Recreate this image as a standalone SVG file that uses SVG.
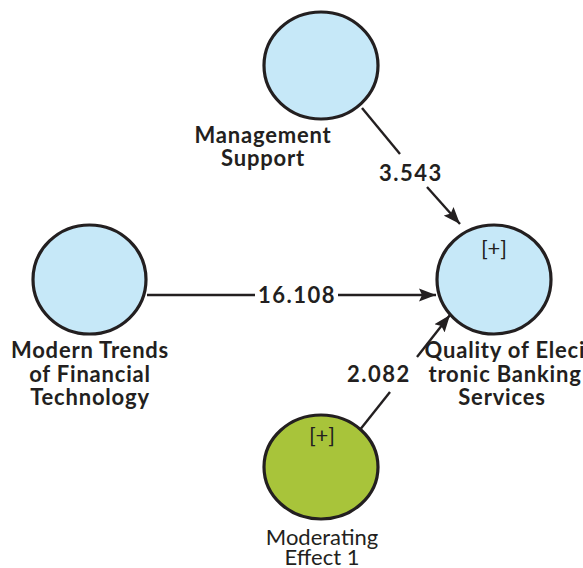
<svg xmlns="http://www.w3.org/2000/svg" width="583" height="568" viewBox="0 0 583 568">
<defs>
<marker id="ah" markerWidth="18" markerHeight="14" refX="17" refY="7" orient="auto" markerUnits="userSpaceOnUse" viewBox="0 0 18 14">
<path d="M0,0.5 L17,7 L0,13.5 L3,7 z" fill="#231f20"/>
</marker>
<style>
.c{stroke:#231f20;stroke-width:3.2}
.b{fill:#c6e8f8}
.g{fill:#a8c43a}
.t{font-family:Lato,"Open Sans",sans-serif;font-weight:bold;font-size:22px;letter-spacing:0.8px;fill:#231f20;text-anchor:middle}
.v{font-family:Lato,"Open Sans",sans-serif;font-weight:bold;font-size:22px;letter-spacing:1.5px;fill:#231f20;text-anchor:middle}
.n{font-family:Lato,"Open Sans",sans-serif;font-size:22px;fill:#231f20;text-anchor:middle}
.p{font-family:Lato,"Open Sans",sans-serif;font-size:22px;fill:#231f20;text-anchor:middle}
.e{stroke:#231f20;stroke-width:2.4;fill:none}
</style>
</defs>
<rect width="583" height="568" fill="#ffffff"/>
<g id="connectors">
<line class="e" x1="362" y1="108" x2="400" y2="154"/>
<line class="e" x1="427" y1="187" x2="460" y2="224" marker-end="url(#ah)"/>
<line class="e" x1="147" y1="295" x2="255" y2="295"/>
<line class="e" x1="338" y1="295" x2="436" y2="295" marker-end="url(#ah)"/>
<line class="e" x1="359" y1="431" x2="390" y2="392"/>
<line class="e" x1="417" y1="357" x2="450" y2="315" marker-end="url(#ah)"/>
<text class="v" x="411" y="181">3.543</text>
<text class="v" x="297" y="303">16.108</text>
<text class="v" x="379" y="382">2.082</text>
</g>
<g id="management-support">
<ellipse class="c b" cx="321" cy="65.5" rx="57" ry="53.5"/>
<text class="t" x="263" y="143">Management</text>
<text class="t" x="263" y="166">Support</text>
</g>
<g id="modern-trends">
<ellipse class="c b" cx="89.5" cy="279.5" rx="56.5" ry="54.5"/>
<text class="t" x="90" y="358">Modern Trends</text>
<text class="t" x="90" y="382">of Financial</text>
<text class="t" x="90" y="405">Technology</text>
</g>
<g id="quality">
<ellipse class="c b" cx="494" cy="279.5" rx="57" ry="54.5"/>
<text class="p" x="494" y="256">[+]</text>
<text class="t" x="505" y="358">Quality of Eleci</text>
<text class="t" x="505" y="382">tronic Banking</text>
<text class="t" x="502" y="405">Services</text>
</g>
<g id="moderating-effect">
<ellipse class="c g" cx="321" cy="467" rx="57" ry="52"/>
<text class="p" x="322" y="443">[+]</text>
<text class="n" x="322" y="545">Moderating</text>
<text class="n" x="322" y="565">Effect 1</text>
</g>
</svg>
